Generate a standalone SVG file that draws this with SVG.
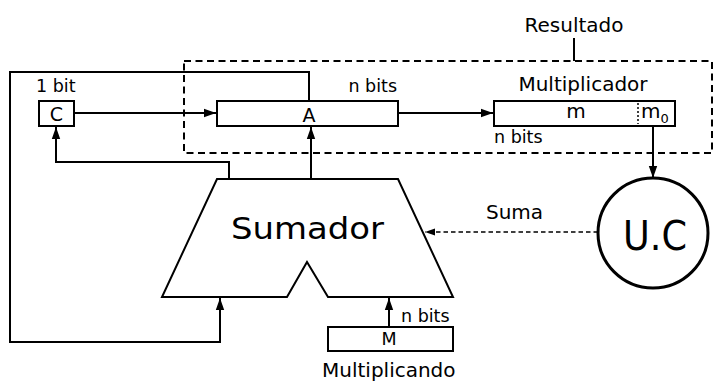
<svg xmlns="http://www.w3.org/2000/svg" width="714" height="383" viewBox="0 0 714 383">
  <style>
    text { font-family: "DejaVu Sans", "Liberation Sans", sans-serif; fill: #000; }
    .box { fill: #fff; stroke: #000; stroke-width: 2; }
    .wire { fill: none; stroke: #000; stroke-width: 2; }
    .dash { fill: none; stroke: #000; stroke-width: 2; stroke-dasharray: 7 4.5; }
    .ctl { fill: none; stroke: #000; stroke-width: 1.7; stroke-dasharray: 4.5 3; }
    .lbl { font-size: 17.5px; }
    .mid { font-size: 20px; }
  </style>
  <defs>
    <marker id="arrow" viewBox="0 0 10 10" refX="10" refY="5" markerWidth="6" markerHeight="6" markerUnits="strokeWidth" orient="auto">
      <path d="M0,1.5 L10,5 L0,8.5 Z" fill="#000"/>
    </marker>
  </defs>

  <!-- Result register group (A + Multiplicador) -->
  <g id="resultado">
    <rect class="dash" x="184" y="61" width="528" height="92"/>
    <line class="wire" x1="574" y1="38" x2="574" y2="61"/>
    <text class="mid" x="574" y="32" text-anchor="middle">Resultado</text>
  </g>

  <!-- Connectors -->
  <g id="connectors">
    <!-- carry feedback loop -->
    <path class="wire" d="M309,101 V72 H10 V342 H220 V298" marker-end="url(#arrow)"/>
    <!-- Sumador carry out to C -->
    <path class="wire" d="M229,179 V162 H56 V127" marker-end="url(#arrow)"/>
    <!-- Sumador sum to A -->
    <path class="wire" d="M311,179 V127" marker-end="url(#arrow)"/>
    <!-- C shifts into A -->
    <path class="wire" d="M74,113 H216" marker-end="url(#arrow)"/>
    <!-- A shifts into Multiplicador -->
    <path class="wire" d="M398,113 H493" marker-end="url(#arrow)"/>
    <!-- m0 to control unit -->
    <path class="wire" d="M653,126 V178" marker-end="url(#arrow)"/>
    <!-- M into Sumador -->
    <path class="wire" d="M389,327 V298" marker-end="url(#arrow)"/>
    <!-- control signal Suma -->
    <path class="ctl" d="M598,232 H425" marker-end="url(#arrow)"/>
    <text class="mid" x="486" y="219">Suma</text>
  </g>

  <g id="C">
    <rect class="box" x="39" y="101" width="35" height="25"/>
    <text x="56.5" y="121" font-size="19" text-anchor="middle">C</text>
    <text class="lbl" x="36" y="92">1 bit</text>
  </g>

  <g id="A">
    <rect class="box" x="217" y="101" width="181" height="25"/>
    <text x="309" y="122" font-size="19" text-anchor="middle">A</text>
    <text class="lbl" x="397" y="92" text-anchor="end">n bits</text>
  </g>

  <g id="multiplicador">
    <rect class="box" x="494" y="101" width="181" height="25"/>
    <line x1="638" y1="103" x2="638" y2="124" stroke="#000" stroke-width="1.5" stroke-dasharray="2 2"/>
    <text class="mid" x="576" y="118" text-anchor="middle">m</text>
    <text class="mid" x="641" y="118">m<tspan font-size="13" dy="5">0</tspan></text>
    <text class="mid" x="583" y="91" text-anchor="middle">Multiplicador</text>
    <text class="lbl" x="494" y="143">n bits</text>
  </g>

  <g id="sumador">
    <polygon class="box" points="217,179 398,179 453,297 328,297 307,262 287,297 162,297"/>
    <text x="231" y="239" font-size="31" textLength="153" lengthAdjust="spacingAndGlyphs">Sumador</text>
  </g>

  <g id="M">
    <rect class="box" x="328" y="327" width="125" height="24"/>
    <text x="389" y="345" font-size="17.5" text-anchor="middle">M</text>
    <text class="lbl" x="401" y="322">n bits</text>
    <text class="mid" x="322" y="377">Multiplicando</text>
  </g>

  <g id="UC">
    <circle cx="653" cy="233" r="55" fill="#fff" stroke="#000" stroke-width="3"/>
    <text x="655" y="250" font-size="41" text-anchor="middle" textLength="64" lengthAdjust="spacingAndGlyphs">U.C</text>
  </g>
</svg>
